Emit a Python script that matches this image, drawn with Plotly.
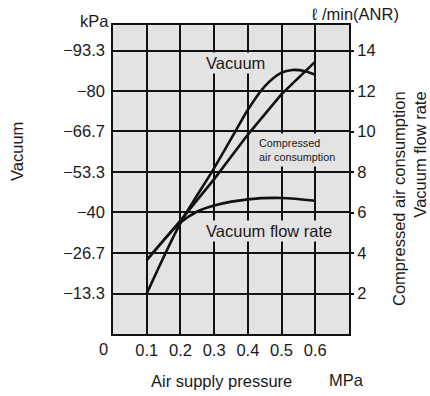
import plotly.graph_objects as go

# Air supply pressure (MPa)
pressure_vac = [0.1, 0.2, 0.3, 0.363, 0.4, 0.45, 0.5, 0.532, 0.57, 0.6]
vacuum_kpa = [-13.3, -36.5, -54.6, -66.7, -73.8, -81.5, -86.0, -86.9, -86.5, -85.3]

pressure_air = [0.1, 0.2, 0.3, 0.4, 0.5, 0.6]
air_consumption = [3.65, 5.6, 7.65, 9.85, 11.85, 13.45]  # l/min (ANR)

pressure_flow = [0.1, 0.2, 0.25, 0.3, 0.4, 0.5, 0.6]
flow_rate = [3.65, 5.5, 6.05, 6.35, 6.65, 6.72, 6.58]  # l/min (ANR)

x_ticks = [0.1, 0.2, 0.3, 0.4, 0.5, 0.6]
vac_ticks = [-13.3, -26.7, -40, -53.3, -66.7, -80, -93.3]
vac_labels = ["\u221213.3", "\u221226.7", "\u221240", "\u221253.3", "\u221266.7", "\u221280", "\u221293.3"]
flow_ticks = [2, 4, 6, 8, 10, 12, 14]

W, H = 430, 396
L, R, T, B = 113, 81, 25, 62
PW, PH = W - L - R, H - T - B


def px(x, y):
    """Pixel position -> paper coordinates."""
    return (x - L) / PW, (H - B - y) / PH


FONT = "Liberation Sans, Arial, sans-serif"
INK = "#1a1a1a"
BG = "#e3e3e3"
LINE = dict(color="#111111", width=2.6)

fig = go.Figure()
fig.add_trace(go.Scatter(x=pressure_vac, y=vacuum_kpa, mode="lines",
                         line=dict(shape="spline", smoothing=0.8, **LINE),
                         yaxis="y", hoverinfo="skip", showlegend=False))
fig.add_trace(go.Scatter(x=pressure_air, y=air_consumption, mode="lines",
                         line=dict(shape="linear", **LINE),
                         yaxis="y2", hoverinfo="skip", showlegend=False))
fig.add_trace(go.Scatter(x=pressure_flow, y=flow_rate, mode="lines",
                         line=dict(shape="spline", smoothing=0.9, **LINE),
                         yaxis="y2", hoverinfo="skip", showlegend=False))

grid = dict(showgrid=True, gridcolor="#111111", gridwidth=1.5, zeroline=False,
            showline=True, linecolor="#111111", linewidth=1.5)

fig.update_layout(
    width=W, height=H,
    margin=dict(l=L, r=R, t=T, b=B, pad=0),
    paper_bgcolor="white", plot_bgcolor=BG,
    font=dict(family=FONT, size=16.5, color=INK),
    xaxis=dict(range=[0, 0.7], tickvals=x_ticks, ticks="", mirror=True,
               tickfont=dict(size=16.5), **grid),
    yaxis=dict(range=[0, -101.7], tickvals=vac_ticks, ticktext=vac_labels,
               ticks="", mirror=True, ticklabelstandoff=3,
               tickfont=dict(size=16.5), **grid),
    yaxis2=dict(range=[0, 15.26], tickvals=flow_ticks, overlaying="y", side="right",
                showgrid=False, zeroline=False, ticks="outside", ticklen=4,
                tickwidth=1.5, tickcolor="#111111", tickfont=dict(size=16.5)),
)

ann = []


def text(x, y, s, **kw):
    ax, ay = px(x, y)
    d = dict(xref="paper", yref="paper", x=ax, y=ay, text=s, showarrow=False,
             xanchor="center", yanchor="middle", font=dict(family=FONT, size=16.5, color=INK))
    d.update(kw)
    ann.append(d)


# Axis units and titles
text(94, 21, "kPa")
text(355, 14, "\u2113 /min(ANR)")
text(103, 349, "0")
text(221, 381, "Air supply pressure")
text(346, 380, "MPa")
text(17, 152, "Vacuum", textangle=-90)
text(409, 199, "Compressed air consumption<br>Vacuum flow rate", textangle=-90, align="right")

# Curve labels, boxed over the grid
text(235, 63, "Vacuum", bgcolor=BG, borderpad=1)
text(268.5, 231, "Vacuum flow rate", bgcolor=BG, borderpad=1)
text(255, 150, "Compressed<br>air consumption", xanchor="left", align="left",
     bgcolor=BG, borderpad=3, font=dict(family=FONT, size=10.8, color=INK))

fig.update_layout(annotations=ann)
fig.write_html("out.html")
